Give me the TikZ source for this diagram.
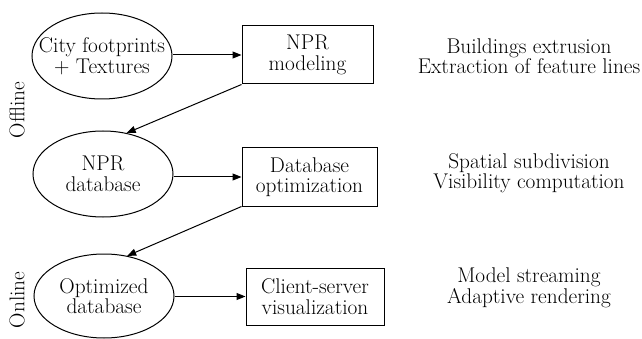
\documentclass[tikz,border=0pt]{standalone}
\usetikzlibrary{shapes.geometric,arrows.meta}
\begin{document}
\begin{tikzpicture}[x=1pt,y=-1pt,
  every node/.style={font=\fontsize{21.3}{20.5}\selectfont, align=center, inner sep=0pt},
  ell/.style={draw, ellipse, line width=1pt, minimum width=140pt, minimum height=86pt},
  boxnode/.style={draw, rectangle, line width=1pt},
  arr/.style={line width=1pt, -{Triangle[length=9pt,width=7pt]}}]
\useasboundingbox (0,0) rectangle (642,339);
\node[ell, inner xsep=-30pt] (e1) at (102,56) {City footprints\\+ Textures};
\node[ell] (e2) at (103,174) {NPR\\database};
\node[ell, minimum height=84pt] (e3) at (104,296) {Optimized\\database};
\node[boxnode, minimum width=131pt, minimum height=58pt] (b1) at (307.5,55) {NPR\\modeling};
\node[boxnode, minimum width=135pt, minimum height=58pt] (b2) at (309.5,177) {Database\\optimization};
\node[boxnode, minimum width=138pt, minimum height=57pt] (b3) at (315,296.5) {Client-server\\visualization};
\node (t1) at (529,56) {Buildings extrusion\\Extraction of feature lines};
\node (t2) at (529,173) {Spatial subdivision\\Visibility computation};
\node (t3) at (529,288) {Model streaming\\Adaptive rendering};
\node[rotate=90] (off) at (17,110) {Offline};
\node[rotate=90] (on) at (17,300) {Online};
\draw[arr] (e1.east |- b1.west) -- (b1.west);
\draw[arr] (e2.east |- b2.west) -- (b2.west);
\draw[arr] (e3.east |- b3.west) -- (b3.west);
\draw[arr] (b1.south west) -- (e2.60);
\draw[arr] (b2.south west) -- (e3.60);
\end{tikzpicture}
\end{document}
